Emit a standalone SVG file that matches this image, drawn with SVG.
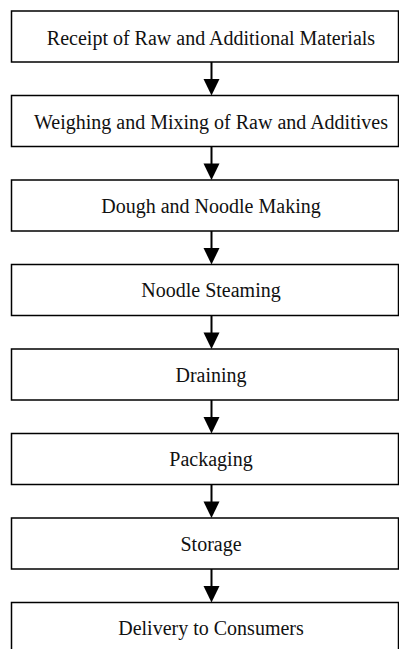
<svg xmlns="http://www.w3.org/2000/svg" width="399" height="649" viewBox="0 0 399 649">
<style>
.box{fill:#fff;stroke:#000;stroke-width:1.5}
.lbl{font-family:"Liberation Serif","Times New Roman",serif;font-size:20px;fill:#111;text-anchor:middle}
.shaft{stroke:#000;stroke-width:2;fill:none}
.head{fill:#000}
</style>
<rect width="399" height="649" fill="#fff"/>
<g id="connectors">
<line class="shaft" x1="211.5" y1="62" x2="211.5" y2="81"/><polygon class="head" points="203.5,79 219.5,79 211.5,95.5"/>
<line class="shaft" x1="211.5" y1="146.5" x2="211.5" y2="165"/><polygon class="head" points="203.5,163.5 219.5,163.5 211.5,180"/>
<line class="shaft" x1="211.5" y1="231" x2="211.5" y2="250"/><polygon class="head" points="203.5,248 219.5,248 211.5,264.5"/>
<line class="shaft" x1="211.5" y1="315.5" x2="211.5" y2="334"/><polygon class="head" points="203.5,332.5 219.5,332.5 211.5,349"/>
<line class="shaft" x1="211.5" y1="400" x2="211.5" y2="419"/><polygon class="head" points="203.5,417 219.5,417 211.5,433.5"/>
<line class="shaft" x1="211.5" y1="484.5" x2="211.5" y2="503"/><polygon class="head" points="203.5,501.5 219.5,501.5 211.5,518"/>
<line class="shaft" x1="211.5" y1="569" x2="211.5" y2="588"/><polygon class="head" points="203.5,586 219.5,586 211.5,602.5"/>
</g>
<g id="n1"><rect class="box" x="11.5" y="11" width="387" height="51"/><text class="lbl" x="211" y="45">Receipt of Raw and Additional Materials</text></g>
<g id="n2"><rect class="box" x="11.5" y="95.5" width="387" height="51"/><text class="lbl" x="211" y="128.5">Weighing and Mixing of Raw and Additives</text></g>
<g id="n3"><rect class="box" x="11.5" y="180" width="387" height="51"/><text class="lbl" x="211" y="213">Dough and Noodle Making</text></g>
<g id="n4"><rect class="box" x="11.5" y="264.5" width="387" height="51"/><text class="lbl" x="211" y="297">Noodle Steaming</text></g>
<g id="n5"><rect class="box" x="11.5" y="349" width="387" height="51"/><text class="lbl" x="211" y="382">Draining</text></g>
<g id="n6"><rect class="box" x="11.5" y="433.5" width="387" height="51"/><text class="lbl" x="211" y="466">Packaging</text></g>
<g id="n7"><rect class="box" x="11.5" y="518" width="387" height="51"/><text class="lbl" x="211" y="551">Storage</text></g>
<g id="n8"><rect class="box" x="11.5" y="602.5" width="387" height="51"/><text class="lbl" x="211" y="635">Delivery to Consumers</text></g>
</svg>
